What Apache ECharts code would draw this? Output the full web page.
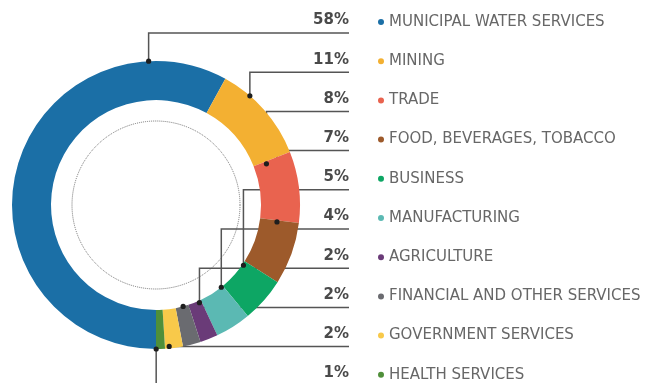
<!DOCTYPE html>
<html>
<head>
<meta charset="utf-8">
<script src="https://cdn.jsdelivr.net/npm/echarts@6/dist/echarts.min.js"></script>
<style>html,body{margin:0;padding:0;background:#fff}#c{width:651px;height:383px}</style>
</head>
<body>
<div id="c"></div>
<script>
const categories = ['MUNICIPAL WATER SERVICES','MINING','TRADE','FOOD, BEVERAGES, TOBACCO','BUSINESS','MANUFACTURING','AGRICULTURE','FINANCIAL AND OTHER SERVICES','GOVERNMENT SERVICES','HEALTH SERVICES'];
const values = [58, 11, 8, 7, 5, 4, 2, 2, 2, 1];
const percentLabels = ['58%','11%','8%','7%','5%','4%','2%','2%','2%','1%'];

// styling / layout
const colors = ['#1b6fa6','#f3b032','#e9634f','#9d5a2b','#0da664','#5bb9b3','#6a3b78','#6a6b70','#f8c94a','#4f8f3a'];
const CX = 156, CY = 205, R0 = 105, R1 = 144, START = 270;
const ROW0 = 20.5, ROWSTEP = 39.2, LABEL_RIGHT = 349, UNDERLINE = 12.5;
// anchor of each leader: fraction along the slice, fraction across the ring
const anchorAlong = [0.848, 0.30, 0.04, 0.03, 0.12, 0.08, 0.17, 0.42, 0.76, 0.98];
const anchorAcross = [1.0, 1.0, 0.33, 0.44, 0.03, 0.0, 0.05, 0.0, 0.95, 1.0];

const total = values.reduce((a, b) => a + b, 0);
function anchorPoint(i) {
  let cum = 0;
  for (let k = 0; k < i; k++) cum += values[k];
  const a0 = START - 360 * cum / total;
  const a1 = START - 360 * (cum + values[i]) / total;
  const a = (a0 + (a1 - a0) * anchorAlong[i]) * Math.PI / 180;
  const r = R0 + (R1 - R0) * anchorAcross[i];
  return [CX + r * Math.cos(a), CY - r * Math.sin(a)];
}
function rowY(i) { return ROW0 + ROWSTEP * i; }

const chart = echarts.init(document.getElementById('c'), null, {renderer: 'canvas'});

const dots = values.map((v, i) => {
  const p = anchorPoint(i);
  return {type: 'circle', shape: {cx: p[0], cy: p[1], r: 2.6}, style: {fill: '#1e1e1e'}, z: 100, silent: true};
});

chart.setOption({
  animation: false,
  color: colors,
  legend: {
    type: 'plain',
    orient: 'vertical',
    left: 373,
    top: ROW0 - 11.5,
    height: 440,
    icon: 'circle',
    itemWidth: 6,
    itemHeight: 6,
    itemGap: ROWSTEP - 16,
    selectedMode: false,
    data: categories,
    textStyle: {fontFamily: 'DejaVu Sans', fontSize: 15, color: '#676767', lineHeight: 16}
  },
  graphic: [
    {type: 'circle', shape: {cx: CX, cy: CY, r: 84}, style: {fill: 'none', stroke: '#6f6f6f', lineWidth: 1, lineDash: [1, 1]}, silent: true, z: 1}
  ].concat(dots),
  series: [{
    type: 'pie',
    center: [CX, CY],
    radius: [R0, R1],
    startAngle: START,
    clockwise: true,
    avoidLabelOverlap: false,
    silent: true,
    itemStyle: {borderWidth: 0},
    label: {
      show: true,
      position: 'outside',
      formatter: p => percentLabels[p.dataIndex],
      fontFamily: 'DejaVu Sans',
      fontWeight: 'bold',
      fontSize: 15,
      color: '#4a4a4a'
    },
    labelLine: {show: true, smooth: false, lineStyle: {color: '#555', width: 1.5}},
    labelLayout: function (params) {
      const i = params.dataIndex;
      const p = anchorPoint(i);
      const ly = rowY(i) + UNDERLINE;
      return {
        x: LABEL_RIGHT,
        y: rowY(i),
        align: 'right',
        verticalAlign: 'middle',
        labelLinePoints: [[p[0], p[1]], [p[0], ly], [LABEL_RIGHT, ly]]
      };
    },
    data: categories.map((c, i) => ({name: c, value: values[i]}))
  }]
});
</script>
</body>
</html>
